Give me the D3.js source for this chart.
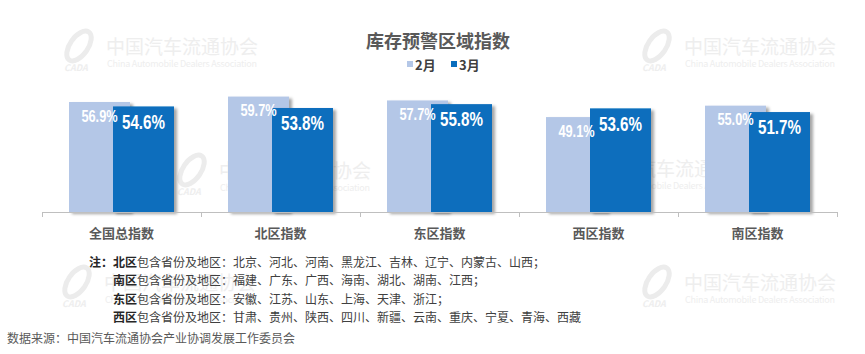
<!DOCTYPE html>
<html>
<head>
<meta charset="utf-8">
<script src="https://cdn.jsdelivr.net/npm/d3@7"></script>
<style>
  body { margin: 0; background: #fff; }
  svg { display: block; font-family: 'Noto Sans CJK SC', 'Noto Sans', sans-serif; }
  .bar-label { font-family: 'Liberation Sans Narrow', 'Arial Narrow', 'Liberation Sans', sans-serif; font-weight: bold; fill: #fff; }
</style>
</head>
<body>
<svg class="chart"></svg>
<script>
const categories = ['全国总指数', '北区指数', '东区指数', '西区指数', '南区指数']
const series = ['2月', '3月']
const feb = [56.9, 59.7, 57.7, 49.1, 55.0]
const mar = [54.6, 53.8, 55.8, 53.6, 51.7]

const noteRegions = ['北区', '南区', '东区', '西区']
const noteLists = [
    '北京、河北、河南、黑龙江、吉林、辽宁、内蒙古、山西；',
    '福建、广东、广西、海南、湖北、湖南、江西；',
    '安徽、江苏、山东、上海、天津、浙江；',
    '甘肃、贵州、陕西、四川、新疆、云南、重庆、宁夏、青海、西藏'
]

const width = 865
const height = 354
const colors = { '2月': '#b4c7e7', '3月': '#0a6ebd' }

const svg = d3.select('.chart')
    .attr('width', width)
    .attr('height', height)

// faint association watermarks behind everything
const marks = [[62, 28], [640, 28], [175, 152], [555, 150], [60, 264], [640, 264]]
const wm = svg.append('g').attr('fill', '#eeeeee')
marks.forEach(([mx, my]) => {
    const g = wm.append('g').attr('transform', `translate(${mx},${my})`)
    g.append('ellipse')
        .attr('cx', 17).attr('cy', 18).attr('rx', 9).attr('ry', 17)
        .attr('transform', 'rotate(35,17,18)')
        .attr('fill', 'none').attr('stroke', '#ececec').attr('stroke-width', 5)
    g.append('text').attr('x', 2).attr('y', 43)
        .attr('font-size', 9).attr('font-style', 'italic').attr('font-weight', 'bold')
        .text('CADA')
    g.append('text').attr('x', 44).attr('y', 26)
        .attr('font-size', 19).attr('textLength', 152)
        .text('中国汽车流通协会')
    g.append('text').attr('x', 45).attr('y', 39)
        .attr('font-size', 9).attr('textLength', 150)
        .text('China Automobile Dealers Association')
})

// scales
const x = d3.scaleBand()
    .domain(categories)
    .range([42, 837])

const xSeries = d3.scalePoint()
    .domain(series)
    .range([-22, 22])

const y = d3.scaleLinear()
    .domain([0, 60])
    .range([212, 96])

const barW = 61

const defs = svg.append('defs')
defs.append('filter').attr('id', 'shadow')
    .attr('x', '-10%').attr('y', '-10%').attr('width', '130%').attr('height', '130%')
    .append('feDropShadow')
    .attr('dx', 3).attr('dy', 2).attr('stdDeviation', 1.5)
    .attr('flood-color', '#000').attr('flood-opacity', 0.35)

// title and legend
svg.append('text')
    .attr('x', 438).attr('y', 40)
    .attr('text-anchor', 'middle')
    .attr('dominant-baseline', 'central')
    .attr('font-size', 18).attr('font-weight', 'bold').attr('fill', '#595959')
    .text('库存预警区域指数')

const legend = svg.append('g')
series.forEach((s, i) => {
    const lx = 407 + i * 44
    legend.append('rect')
        .attr('x', lx).attr('y', 61).attr('width', 6).attr('height', 6)
        .attr('fill', colors[s])
    legend.append('text')
        .attr('x', lx + 8).attr('y', 64.5)
        .attr('dominant-baseline', 'central')
        .attr('font-size', 13).attr('font-weight', 'bold').attr('fill', '#404040')
        .text(s)
})

// bars
const rows = categories.map((c, i) => ({ c, values: [feb[i], mar[i]] }))

rows.forEach(row => {
    const cx = x(row.c) + x.bandwidth() / 2
    series.forEach((s, j) => {
        const v = row.values[j]
        svg.append('rect')
            .attr('x', cx + xSeries(s) - barW / 2)
            .attr('y', y(v))
            .attr('width', barW)
            .attr('height', y(0) - y(v))
            .attr('fill', colors[s])
            .attr('filter', 'url(#shadow)')
    })
    series.forEach((s, j) => {
        const v = row.values[j]
        const lx = cx + xSeries(s)
        const ly = y(v) + (j === 0 ? 14 : 15.5)
        // no condensed face installed, so squeeze the label horizontally
        svg.append('text')
            .attr('class', 'bar-label')
            .attr('transform', `translate(${lx},${ly}) scale(${j === 0 ? 0.8 : 0.76},1)`)
            .attr('text-anchor', 'middle')
            .attr('dominant-baseline', 'central')
            .attr('font-size', j === 0 ? 16 : 20)
            .text(v.toFixed(1) + '%')
    })
})

// category axis
const axis = svg.append('g')
axis.append('line')
    .attr('x1', x.range()[0]).attr('x2', x.range()[1])
    .attr('y1', y(0) + 0.5).attr('y2', y(0) + 0.5)
    .attr('stroke', '#bfbfbf')
const bounds = categories.map(c => x(c)).concat([x.range()[1]])
axis.selectAll('.tick-mark')
    .data(bounds)
    .enter()
    .append('line')
    .attr('x1', d => d + 0.5).attr('x2', d => d + 0.5)
    .attr('y1', y(0)).attr('y2', y(0) + 5)
    .attr('stroke', '#bfbfbf')
axis.selectAll('.cat')
    .data(categories)
    .enter()
    .append('text')
    .attr('x', d => x(d) + x.bandwidth() / 2)
    .attr('y', 232)
    .attr('text-anchor', 'middle')
    .attr('dominant-baseline', 'central')
    .attr('font-size', 13).attr('font-weight', 'bold').attr('fill', '#595959')
    .text(d => d)

// notes
const notes = svg.append('g').attr('font-size', 12)
noteRegions.forEach((r, i) => {
    const t = notes.append('text')
        .attr('x', 113).attr('y', 261 + i * 18.3)
        .attr('dominant-baseline', 'central')
        .attr('fill', '#404040')
    if (i === 0) {
        t.attr('x', 89)
        t.append('tspan').attr('font-weight', 'bold').attr('fill', '#262626').text('注：')
    }
    t.append('tspan').attr('font-weight', 'bold').attr('fill', '#262626').text(r)
    t.append('tspan').text('包含省份及地区：' + noteLists[i])
})

svg.append('text')
    .attr('x', 7).attr('y', 337)
    .attr('dominant-baseline', 'central')
    .attr('font-size', 12).attr('fill', '#595959')
    .text('数据来源：中国汽车流通协会产业协调发展工作委员会')
</script>
</body>
</html>
